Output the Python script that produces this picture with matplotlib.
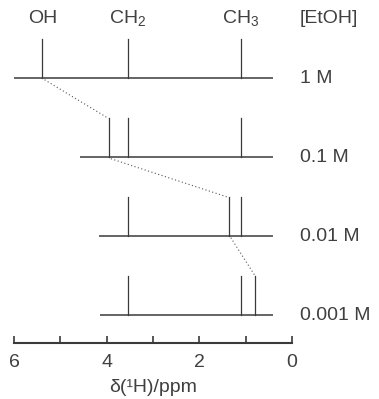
import matplotlib
matplotlib.use("Agg")
import matplotlib.pyplot as plt

plt.rcParams["font.family"] = ["Liberation Sans", "DejaVu Sans"]
plt.rcParams["mathtext.fontset"] = "custom"
plt.rcParams["mathtext.rm"] = "Liberation Sans"
plt.rcParams["mathtext.it"] = "Liberation Sans"

# data ------------------------------------------------------------------------
concentrations = ["1 M", "0.1 M", "0.01 M", "0.001 M"]
oh_shift = [5.39, 3.96, 1.37, 0.79]
ch2_shift = 3.55
ch3_shift = 1.11
baseline_start = [6.0, 4.58, 4.16, 4.15]
baseline_end = 0.42
group_labels = ["OH", "CH$_2$", "CH$_3$"]
x_ticks = [6, 4, 2, 0]
x_minor = [5, 3, 1]

LINE = "#3a3a3a"
TEXT = "#404040"
FS = 14
PEAK_H = 0.49

fig = plt.figure(figsize=(3.79, 3.99), dpi=100)
ax = fig.add_axes([14 / 379, 56.3 / 399, 278 / 379, 1 - 56.3 / 399])
ax.set_xlim(6, 0)
ax.set_ylim(-0.35, 3.99)

n = len(concentrations)
rows = [n - 1 - i for i in range(n)]  # 1 M on top

for i, (conc, oh, x0, y) in enumerate(zip(concentrations, oh_shift, baseline_start, rows)):
    ax.plot([x0, baseline_end], [y, y], color=LINE, lw=1.1, solid_capstyle="butt", clip_on=False)
    for p in (oh, ch2_shift, ch3_shift):
        ax.plot([p, p], [y, y + PEAK_H], color=LINE, lw=0.9, clip_on=False)
    ax.text(-0.17, y, conc, ha="left", va="center", fontsize=FS, color=TEXT, clip_on=False)
    if i + 1 < n:
        ax.plot([oh - 0.05, oh_shift[i + 1]], [y - 0.02, rows[i + 1] + PEAK_H],
                color="#555555", lw=0.8, linestyle=(0, (1, 2.2)), clip_on=False)

label_y = 3.76
for lab, p in zip(group_labels, [oh_shift[0], ch2_shift, ch3_shift]):
    ax.text(p, label_y, lab, ha="center", va="center", fontsize=FS, color=TEXT)
ax.text(-0.17, label_y, "[EtOH]", ha="left", va="center", fontsize=FS, color=TEXT, clip_on=False)

for s in ("top", "left", "right"):
    ax.spines[s].set_visible(False)
ax.spines["bottom"].set_linewidth(1.5)
ax.spines["bottom"].set_color(LINE)
ax.set_yticks([])
ax.set_xticks(x_ticks)
ax.set_xticks(x_minor, minor=True)
ax.tick_params(axis="x", which="both", direction="in", length=5, width=1.2,
               color=LINE, labelsize=FS, labelcolor=TEXT, pad=8)
ax.set_xlabel("δ(¹H)/ppm", fontsize=FS, color=TEXT, labelpad=6)
ax.patch.set_visible(False)

fig.savefig("out.png", dpi=100)
